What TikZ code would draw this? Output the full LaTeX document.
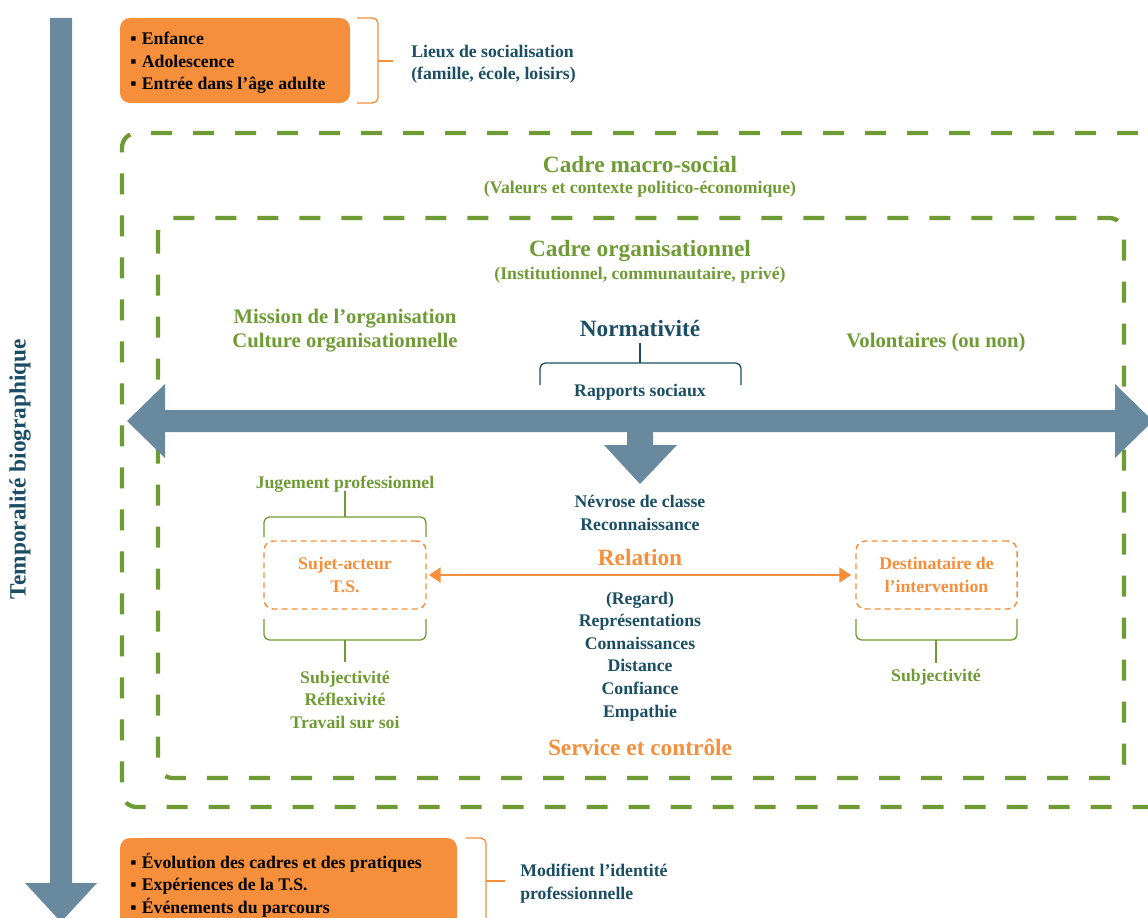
\documentclass[tikz,border=0pt]{standalone}
\usepackage{fontspec}
\setmainfont{Liberation Serif}
\usetikzlibrary{arrows.meta}
\definecolor{steel}{RGB}{104,137,158}
\definecolor{tealtxt}{RGB}{27,78,100}
\definecolor{grn}{RGB}{111,155,52}
\definecolor{org}{RGB}{245,143,59}
\newdimen\px \px=0.75pt
\newcommand\bul{▪\hspace{4pt}}
\begin{document}
\begin{tikzpicture}[x=0.75pt,y=-0.75pt,
  body/.style={font=\bfseries\fontsize{13.3}{16.9}\selectfont, align=center, inner sep=0pt, yshift=-1.8pt},
  med/.style={font=\bfseries\fontsize{15.5}{18}\selectfont, align=center, inner sep=0pt, yshift=-2pt},
  big/.style={font=\bfseries\fontsize{17.5}{21}\selectfont, align=center, inner sep=0pt, yshift=-1.5pt},
  gdash/.style={draw=grn, line width=3.2pt, dash pattern=on 15.75pt off 15.75pt, rounded corners=11pt},
  odash/.style={draw=org, line width=1.1pt, dash pattern=on 4.5pt off 3pt, rounded corners=7pt, inner sep=0pt, align=center, text=org, font=\bfseries\fontsize{13.3}{16.9}\selectfont},
  obox/.style={fill=org, rounded corners=7.5pt, inner sep=0pt},
  gbrk/.style={draw=grn, line width=1pt, rounded corners=4pt},
  obrk/.style={draw=org, line width=1pt, rounded corners=4pt},
  tbrk/.style={draw=tealtxt, line width=1pt, rounded corners=4pt},
  oarrow/.style={draw=org, line width=2.2pt, {Triangle[length=9pt,width=11pt]}-{Triangle[length=9pt,width=11pt]}}
]
\useasboundingbox (0,0) rectangle (1148,917);
\clip (0,0) rectangle (1148,917);

% biographical time arrow
\fill[steel] (50,18) -- (72,18) -- (72,883) -- (97,883) -- (61,922) -- (25,883) -- (50,883) -- cycle;
\node[font=\bfseries\fontsize{17.5}{21}\selectfont, inner sep=0pt, text=tealtxt, rotate=90] (temps) at (20,469) {Temporalité biographique};

% top orange box
\node[obox, minimum width=230\px, minimum height=85\px] (early) at (235,60.5) {};
\node[body, align=left, anchor=west] (earlytxt) at (130,60.5) {\bul Enfance\\\bul Adolescence\\\bul Entrée dans l’âge adulte};
\coordinate (b1) at (393,61);
\draw[obrk] (357,18) -- (378,18) -- (378,103) -- (357,103);
\draw[obrk] (378,61) -- (b1);
\node[body, text=tealtxt, align=left, anchor=west] (lieux) at (411,62) {Lieux de socialisation\\(famille, école, loisirs)};

% dashed frames
\draw[gdash] (1180,133) -- (122,133) -- (122,807) -- (1180,807);
\draw[gdash] (158,218) rectangle (1124,778);

\node[big, text=grn] (macro) at (640,163) {Cadre macro-social};
\node[body, text=grn] (macrosub) at (640,187) {(Valeurs et contexte politico-économique)};
\node[big, text=grn] (orga) at (640,249) {Cadre organisationnel};
\node[body, text=grn] (orgasub) at (640,273) {(Institutionnel, communautaire, privé)};

\node[med, text=grn] (mission) at (345,328) {Mission de l’organisation\\Culture organisationnelle};
\node[big, text=tealtxt] (norm) at (640,327) {Normativité};
\node[med, text=grn] (volont) at (936,340) {Volontaires (ou non)};
\coordinate (nb) at (640,363);
\draw[tbrk] (640,343) -- (nb);
\draw[tbrk] (540,385) -- (540,363) -- (741,363) -- (741,385);
\node[body, text=tealtxt] (rapports) at (640,390) {Rapports sociaux};

% horizontal double arrow with central down arrow
\fill[steel] (127,421) -- (165,384) -- (165,410) -- (1115,410) -- (1115,384) -- (1153,421) -- (1115,458) -- (1115,432)
  -- (653,432) -- (653,445) -- (677,445) -- (640,484) -- (604,445) -- (627,445) -- (627,432)
  -- (165,432) -- (165,458) -- cycle;

\node[body, text=tealtxt] (nevrose) at (640,510.5) {Névrose de classe\\Reconnaissance};
\node[big, text=org] (relation) at (640,556) {Relation};
\node[body, text=tealtxt] (regard) at (640,654) {(Regard)\\Représentations\\Connaissances\\Distance\\Confiance\\Empathie};
\node[big, text=org] (service) at (640,745) {Service et contrôle};

% left actor
\node[body, text=grn] (jug) at (345,482) {Jugement professionnel};
\coordinate (jt) at (345,517);
\draw[gbrk] (345,491) -- (jt);
\draw[gbrk] (264,537) -- (264,517) -- (426,517) -- (426,537);
\node[odash, minimum width=162\px, minimum height=68\px] (sujet) at (345,575) {Sujet-acteur\\T.S.};
\draw[gbrk] (264,619) -- (264,640) -- (426,640) -- (426,619);
\coordinate (jb) at (345,640);
\draw[gbrk] (jb) -- (345,662);
\node[body, text=grn] (subj1) at (345,697.5) {Subjectivité\\Réflexivité\\Travail sur soi};

% right recipient
\node[odash, minimum width=161\px, minimum height=68\px] (dest) at (936.5,575) {Destinataire de\\l’intervention};
\draw[gbrk] (856,619) -- (856,640) -- (1017,640) -- (1017,619);
\coordinate (db) at (936,640);
\draw[gbrk] (db) -- (936,663);
\node[body, text=grn] (subj2) at (936,675) {Subjectivité};

\draw[oarrow] (sujet.east) ++(2,0) -- ([xshift=-4\px]dest.west);

% bottom orange box
\node[obox, minimum width=337\px, minimum height=100\px] (later) at (288.5,888) {};
\node[body, align=left, anchor=west] (latertxt) at (130,882.5) {\bul Évolution des cadres et des pratiques\\\bul Expériences de la T.S.\\\bul Événements du parcours};
\coordinate (b2) at (505,881);
\draw[obrk] (466,838) -- (486,838) -- (486,930);
\draw[obrk] (486,881) -- (b2);
\node[body, text=tealtxt, align=left, anchor=west] (modif) at (520,881) {Modifient l’identité\\professionnelle};
\end{tikzpicture}
\end{document}
